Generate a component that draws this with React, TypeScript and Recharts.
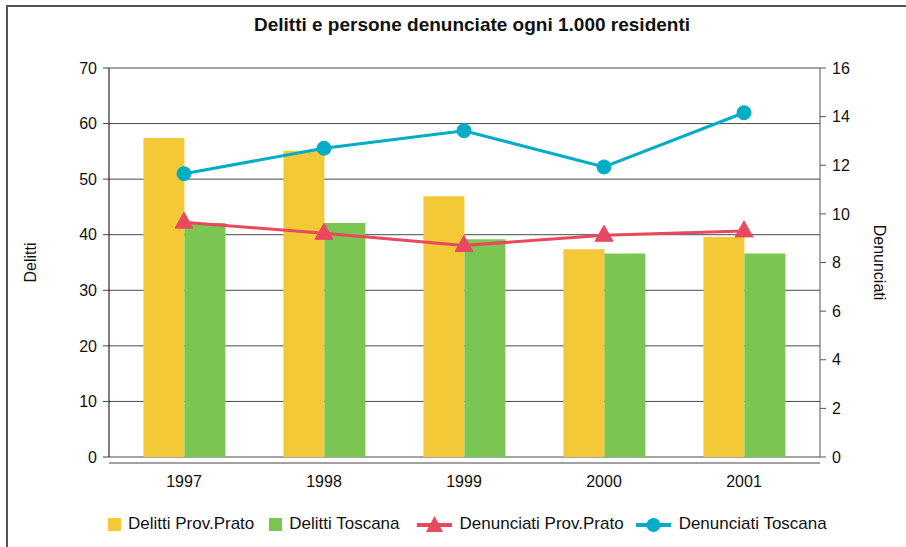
import React from 'react';
import {
  ComposedChart,
  Bar,
  Line,
  XAxis,
  YAxis,
  CartesianGrid,
  Legend,
} from 'recharts';

const years = ['1997', '1998', '1999', '2000', '2001'];
const delittiPrato = [57.4, 55.1, 46.9, 37.4, 39.6];
const delittiToscana = [42.1, 42.1, 39.2, 36.6, 36.6];
const denunciatiPrato = [9.66, 9.2, 8.7, 9.12, 9.3];
const denunciatiToscana = [11.65, 12.7, 13.42, 11.93, 14.16];
const leftTicks = [0, 10, 20, 30, 40, 50, 60, 70];
const rightTicks = [0, 2, 4, 6, 8, 10, 12, 14, 16];

const YELLOW = '#F3C937';
const GREEN = '#7BC553';
const RED = '#E8495E';
const CYAN = '#00ADC7';
const FONT = '"Liberation Sans", Arial, sans-serif';

const data = years.map((year, i) => ({
  year,
  delittiPrato: delittiPrato[i],
  delittiToscana: delittiToscana[i],
  denunciatiPrato: denunciatiPrato[i],
  denunciatiToscana: denunciatiToscana[i],
}));

const TriangleDot = (props: any) => {
  const { cx, cy } = props;
  if (cx == null || cy == null) return null;
  return (
    <path
      d={`M${cx},${cy - 10} L${cx + 9},${cy + 6} L${cx - 9},${cy + 6} Z`}
      fill={RED}
      stroke={RED}
    />
  );
};

const CircleDot = (props: any) => {
  const { cx, cy } = props;
  if (cx == null || cy == null) return null;
  return <circle cx={cx} cy={cy} r={7} fill={CYAN} stroke={CYAN} />;
};

const legendItems = [
  { label: 'Delitti Prov.Prato', kind: 'square', color: YELLOW, gap: 15 },
  { label: 'Delitti Toscana', kind: 'square', color: GREEN, gap: 17 },
  { label: 'Denunciati Prov.Prato', kind: 'triangle', color: RED, gap: 12 },
  { label: 'Denunciati Toscana', kind: 'circle', color: CYAN, gap: 0 },
];

const LegendContent = () => (
  <div
    style={{
      height: 30,
      boxSizing: 'border-box',
      paddingTop: 4,
      display: 'flex',
      alignItems: 'center',
      paddingLeft: 108,
      fontFamily: FONT,
      fontSize: 17,
      color: '#111',
    }}
  >
    {legendItems.map((it) => (
      <div key={it.label} style={{ display: 'flex', alignItems: 'center', marginRight: it.gap }}>
        {it.kind === 'square' ? (
          <svg width={13} height={13} style={{ marginRight: 7 }}>
            <rect width={13} height={13} fill={it.color} />
          </svg>
        ) : (
          <svg width={35} height={20} style={{ marginRight: 8 }}>
            <line x1={0} y1={11} x2={35} y2={11} stroke={it.color} strokeWidth={4} />
            {it.kind === 'triangle' ? (
              <path d="M17.5,2 L26,18 L9,18 Z" fill={it.color} />
            ) : (
              <circle cx={17.5} cy={11} r={7} fill={it.color} />
            )}
          </svg>
        )}
        <span>{it.label}</span>
      </div>
    ))}
  </div>
);

export default function App() {
  return (
    <div
      style={{
        position: 'absolute',
        left: 0,
        top: 0,
        width: 906,
        height: 547,
        overflow: 'hidden',
        background: '#fff',
      }}
    >
      <div
        style={{
          position: 'absolute',
          left: 6,
          top: 5,
          width: 920,
          height: 560,
          borderLeft: '2px solid #555',
          borderTop: '2px solid #555',
        }}
      />
      <div
        style={{
          position: 'absolute',
          top: 14,
          left: 19,
          width: 906,
          textAlign: 'center',
          fontFamily: FONT,
          fontWeight: 'bold',
          fontSize: 19,
          color: '#111',
        }}
      >
        Delitti e persone denunciate ogni 1.000 residenti
      </div>
      <div style={{ position: 'absolute', left: 0, top: 0 }}>
        <ComposedChart
          width={906}
          height={547}
          data={data}
          margin={{ top: 68, right: 0, left: 0, bottom: 10 }}
          barCategoryGap="21%"
          barGap={0}
          style={{ fontFamily: FONT }}
        >
          <CartesianGrid vertical={false} stroke="#4a4a4a" yAxisId="left" />
          <XAxis
            dataKey="year"
            height={50}
            padding={{ left: 5, right: 6 }}
            tickLine={false}
            tickMargin={13}
            axisLine={{ stroke: '#444', transform: 'translate(0,6)' }}
            tick={{ fill: '#111', fontSize: 16 }}
          />
          <YAxis
            yAxisId="left"
            width={109}
            domain={[0, 70]}
            ticks={leftTicks}
            axisLine={{ stroke: '#000' }}
            tickLine={{ stroke: '#444' }}
            tickMargin={6}
            tick={{ fill: '#111', fontSize: 16 }}
            label={{ value: 'Delitti', angle: -90, position: 'center', dx: -24, fill: '#111', fontSize: 16 }}
          />
          <YAxis
            yAxisId="right"
            orientation="right"
            width={86}
            domain={[0, 16]}
            ticks={rightTicks}
            axisLine={{ stroke: '#555' }}
            tickLine={{ stroke: '#555' }}
            tickMargin={6}
            tick={{ fill: '#111', fontSize: 16 }}
            label={{ value: 'Denunciati', angle: 90, position: 'center', dx: 17, fill: '#111', fontSize: 16 }}
          />
          <Legend verticalAlign="bottom" content={<LegendContent />} />
          <Bar yAxisId="left" dataKey="delittiPrato" name="Delitti Prov.Prato" fill={YELLOW} isAnimationActive={false} />
          <Bar yAxisId="left" dataKey="delittiToscana" name="Delitti Toscana" fill={GREEN} isAnimationActive={false} />
          <Line
            yAxisId="right"
            dataKey="denunciatiPrato"
            name="Denunciati Prov.Prato"
            stroke={RED}
            strokeWidth={3}
            dot={<TriangleDot />}
            activeDot={false}
            isAnimationActive={false}
          />
          <Line
            yAxisId="right"
            dataKey="denunciatiToscana"
            name="Denunciati Toscana"
            stroke={CYAN}
            strokeWidth={3}
            dot={<CircleDot />}
            activeDot={false}
            isAnimationActive={false}
          />
        </ComposedChart>
      </div>
    </div>
  );
}
